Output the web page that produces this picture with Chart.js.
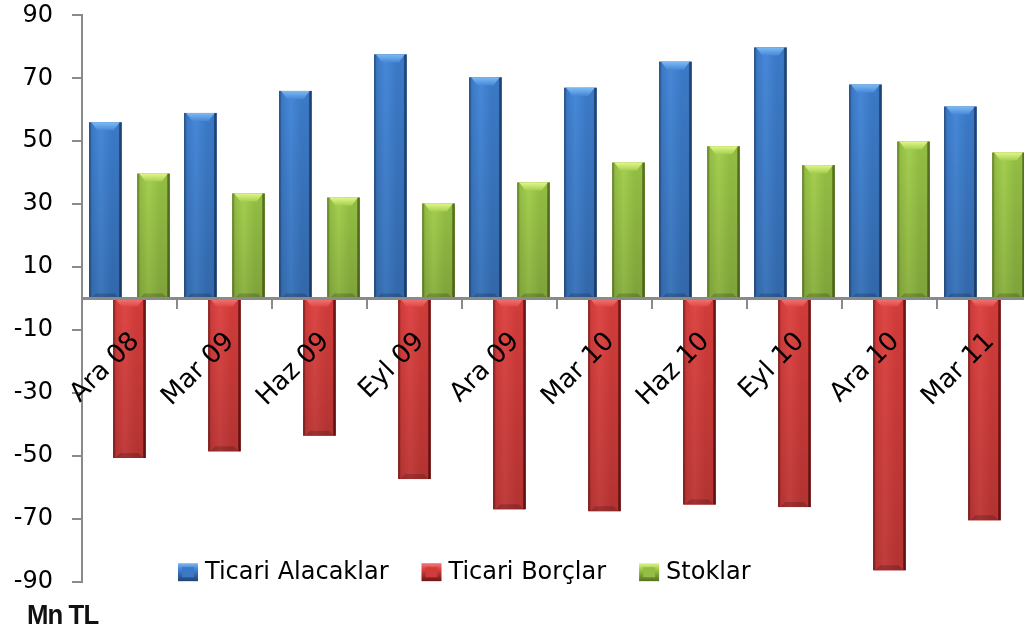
<!DOCTYPE html>
<html>
<head>
<meta charset="utf-8">
<script src="https://cdn.jsdelivr.net/npm/chart.js@4"></script>
<style>
    html, body { margin: 0; padding: 0; background: #fff; overflow: hidden; }
    #wrap { position: relative; width: 1024px; height: 632px; overflow: hidden; }
    #plot { position: absolute; left: 0; top: 0; width: 1032px; height: 590px; overflow: hidden; }
    #chart { position: absolute; left: 0; top: -18px; }
    #unit {
        position: absolute; left: 27px; top: 599px;
        font: bold 28px "Liberation Sans", sans-serif;
        transform: scaleX(0.92); transform-origin: left top;
        letter-spacing: -1px; color: #111; filter: blur(0.4px);
    }
</style>
</head>
<body>
<div id="wrap">
    <div id="plot"><canvas id="chart" width="1032" height="633"></canvas></div>
    <div id="unit">Mn TL</div>
</div>
<script>
// Quarter labels and series (Mn TL)
const quarters = ['Ara 08', 'Mar 09', 'Haz 09', 'Eyl 09', 'Ara 09', 'Mar 10', 'Haz 10', 'Eyl 10', 'Ara 10', 'Mar 11'];
const ticariAlacaklar = [56, 59, 66, 77.6, 70.3, 67, 75.3, 79.8, 68, 61];
const ticariBorclar = [-50.7, -48.6, -43.6, -57.4, -67, -67.6, -65.5, -66.3, -86.4, -70.5];
const stoklar = [39.7, 33.4, 32.1, 30.2, 36.9, 43.2, 48.4, 42.4, 49.9, 46.4];
const seriesNames = ['Ticari Alacaklar', 'Ticari Borçlar', 'Stoklar'];

const yMin = -90, yMax = 90, yStep = 20;

// Bevel colours for each series
const palettes = [
    { base: '#3b79c6', light: '#4688d8', dark: '#1f4373', cap: '#7dbaf3' },
    { base: '#d03c3a', light: '#de4746', dark: '#6e1616', cap: '#f27a78' },
    { base: '#93bd44', light: '#a4cf4f', dark: '#56711f', cap: '#e2f78a' }
];

const FONT = '"DejaVu Sans", sans-serif';

// Paints the glassy bevel over each bar, using the bar geometry from Chart.js
const bevelBars = {
    id: 'bevelBars',
    afterDatasetsDraw(chart) {
        const ctx = chart.ctx;
        ctx.save();
        chart.data.datasets.forEach((ds, i) => {
            const pal = palettes[i];
            chart.getDatasetMeta(i).data.forEach(bar => {
                const { x, y, base, width } = bar.getProps(['x', 'y', 'base', 'width'], true);
                const l = x - width / 2, r = x + width / 2;
                const t = Math.min(y, base), b = Math.max(y, base);
                const h = b - t;

                const g = ctx.createLinearGradient(l, 0, r, 0);
                g.addColorStop(0, pal.dark);
                g.addColorStop(0.08, pal.base);
                g.addColorStop(0.35, pal.light);
                g.addColorStop(0.7, pal.base);
                g.addColorStop(0.9, pal.base);
                g.addColorStop(0.94, pal.dark);
                g.addColorStop(1, pal.dark);
                ctx.fillStyle = g;
                ctx.fillRect(l, t, width, h);

                const v = ctx.createLinearGradient(0, t, 0, b);
                v.addColorStop(0, 'rgba(0,0,0,0)');
                v.addColorStop(1, 'rgba(0,0,0,0.14)');
                ctx.fillStyle = v;
                ctx.fillRect(l, t, width, h);

                // light cap on the top face
                const capH = Math.min(8, h / 2);
                const cg = ctx.createLinearGradient(0, t, 0, t + capH);
                cg.addColorStop(0, pal.cap);
                cg.addColorStop(1, pal.light);
                ctx.fillStyle = cg;
                ctx.beginPath();
                ctx.moveTo(l + 2, t);
                ctx.lineTo(r - 2, t);
                ctx.lineTo(r - 8, t + capH);
                ctx.lineTo(l + 8, t + capH);
                ctx.closePath();
                ctx.fill();

                // darker lip on the lower face
                ctx.fillStyle = 'rgba(0,0,0,0.18)';
                ctx.beginPath();
                ctx.moveTo(l + 2, b);
                ctx.lineTo(r - 2, b);
                ctx.lineTo(r - 7, b - 5);
                ctx.lineTo(l + 7, b - 5);
                ctx.closePath();
                ctx.fill();
            });
        });
        ctx.restore();
    }
};

// Legend sits inside the plot, near the bottom
const innerLegend = {
    id: 'innerLegend',
    afterDraw(chart) {
        const ctx = chart.ctx;
        const area = chart.chartArea;
        const cy = chart.scales.y.getPixelForValue(-87);
        let x = area.left + 96;
        ctx.save();
        ctx.font = '24px ' + FONT;
        ctx.textBaseline = 'middle';
        chart.data.datasets.forEach((ds, i) => {
            const pal = palettes[i];
            const bw = 20, bh = 18, by = cy - bh / 2;
            const g = ctx.createLinearGradient(0, by, 0, by + bh);
            g.addColorStop(0, pal.cap);
            g.addColorStop(0.3, pal.light);
            g.addColorStop(1, pal.dark);
            ctx.fillStyle = g;
            ctx.fillRect(x, by, bw, bh);
            ctx.fillStyle = pal.base;
            ctx.fillRect(x + 4, by + 4, bw - 8, bh - 8);
            ctx.fillStyle = '#000';
            ctx.fillText(ds.label, x + 27, cy + 1);
            x += 27 + ctx.measureText(ds.label).width + 33;
        });
        ctx.restore();
    }
};

const ctx = document.getElementById('chart').getContext('2d');
new Chart(ctx, {
    type: 'bar',
    data: {
        labels: quarters,
        datasets: [
            { label: seriesNames[0], data: ticariAlacaklar, backgroundColor: palettes[0].base },
            { label: seriesNames[1], data: ticariBorclar, backgroundColor: palettes[1].base },
            { label: seriesNames[2], data: stoklar, backgroundColor: palettes[2].base }
        ]
    },
    options: {
        responsive: false,
        animation: false,
        devicePixelRatio: 1,
        categoryPercentage: 0.76,
        barPercentage: 1.35,
        layout: { padding: 0 },
        plugins: {
            legend: { display: false },
            tooltip: { enabled: false }
        },
        scales: {
            x: {
                position: { y: 0 },
                offset: true,
                grid: {
                    z: 1,
                    offset: true,
                    drawOnChartArea: false,
                    tickLength: 9,
                    tickColor: '#8a8a8a',
                    lineWidth: 2
                },
                border: { z: 1, color: '#8a8a8a', width: 3 },
                ticks: {
                    z: 1,
                    autoSkip: false,
                    minRotation: 45,
                    maxRotation: 45,
                    padding: 19,
                    labelOffset: 6,
                    color: '#000',
                    font: { family: FONT, size: 26 }
                }
            },
            y: {
                min: yMin,
                max: yMax,
                afterFit: scale => { scale.width = 82; },
                grid: {
                    drawOnChartArea: false,
                    tickLength: 10,
                    tickColor: '#8a8a8a',
                    lineWidth: 2
                },
                border: { color: '#8a8a8a', width: 2 },
                ticks: {
                    stepSize: yStep,
                    padding: 19,
                    color: '#000',
                    font: { family: FONT, size: 24 }
                }
            }
        }
    },
    plugins: [bevelBars, innerLegend]
});
</script>
</body>
</html>
